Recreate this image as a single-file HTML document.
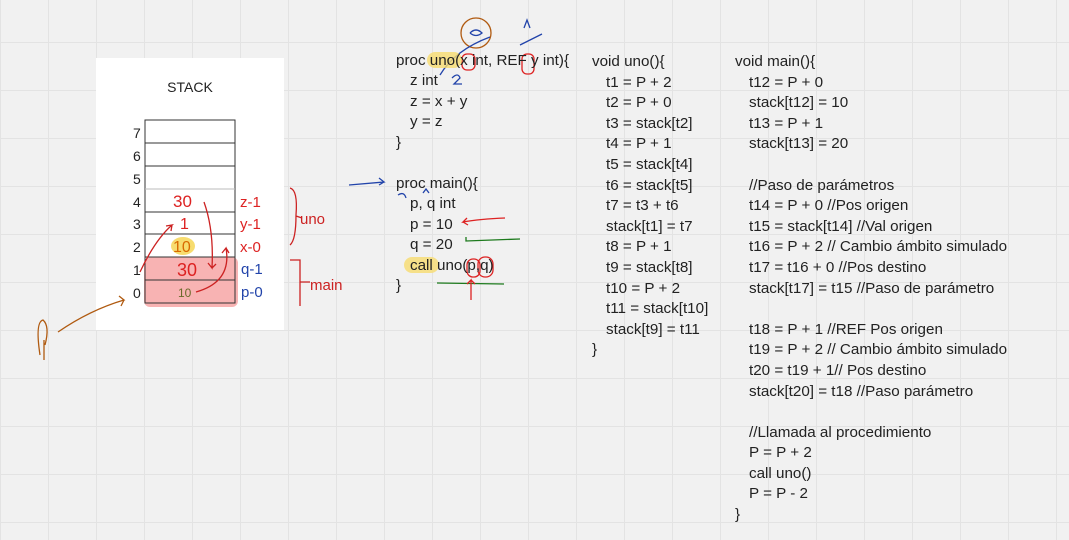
<!DOCTYPE html>
<html><head><meta charset="utf-8"><style>
html,body{margin:0;padding:0;}
body{width:1069px;height:540px;overflow:hidden;background-color:#f1f1f1;
background-image:linear-gradient(#e3e3e3 1px,transparent 1px),linear-gradient(90deg,#e3e3e3 1px,transparent 1px);
background-size:48px 48px;background-position:0 42px,0 0;font-family:"Liberation Sans",sans-serif;}
svg{position:absolute;left:0;top:0}
text{font-family:"Liberation Sans",sans-serif;font-size:15.2px;fill:#222}
</style></head><body>
<svg width="1069" height="540" viewBox="0 0 1069 540">
<rect x="96" y="58" width="188" height="272" fill="#fff"/>
<text x="190" y="92" text-anchor="middle" style="font-size:14px">STACK</text>
<rect x="144" y="257" width="94" height="50" rx="6" fill="#f7a6a6" opacity="0.85"/>
<g stroke="#333" stroke-width="1" fill="none">
<rect x="145" y="120" width="90" height="183"/>
<line x1="145" y1="143" x2="235" y2="143"/><line x1="145" y1="166" x2="235" y2="166"/>
<line x1="145" y1="189" x2="235" y2="189" stroke="#bbb"/><line x1="145" y1="212" x2="235" y2="212"/>
<line x1="145" y1="234" x2="235" y2="234"/><line x1="145" y1="257" x2="235" y2="257"/>
<line x1="145" y1="280" x2="235" y2="280"/>
</g>
<g>
<text x="133" y="138" style="font-size:14px">7</text><text x="133" y="161" style="font-size:14px">6</text><text x="133" y="184" style="font-size:14px">5</text><text x="133" y="207" style="font-size:14px">4</text>
<text x="133" y="229" style="font-size:14px">3</text><text x="133" y="252" style="font-size:14px">2</text><text x="133" y="275" style="font-size:14px">1</text><text x="133" y="298" style="font-size:14px">0</text>
</g>
<ellipse cx="183" cy="246" rx="12" ry="9" fill="#f7dc6f"/>
<g>
<text x="173" y="207" style="fill:#d22;font-size:17px">30</text>
<text x="180" y="229" style="fill:#d22;font-size:16px">1</text>
<text x="173" y="252" style="fill:#d86a00;font-size:16px">10</text>
<text x="177" y="276" style="fill:#d22;font-size:18px">30</text>
<text x="178" y="297" style="fill:#6a6a2a;font-size:12px">10</text>
<text x="240" y="207" style="fill:#d22;font-size:15px">z-1</text>
<text x="240" y="229" style="fill:#d22;font-size:15px">y-1</text>
<text x="240" y="252" style="fill:#d22;font-size:15px">x-0</text>
<text x="241" y="274" style="fill:#2244aa;font-size:15px">q-1</text>
<text x="241" y="297" style="fill:#2244aa;font-size:15px">p-0</text>
<text x="300" y="224" style="fill:#c22;font-size:15px">uno</text>
<text x="310" y="290" style="fill:#c22;font-size:15px">main</text>
</g>
<g fill="none" stroke-width="1.3">
<path d="M204,202 Q214,230 212,268 l-4,-5 m4,5 l4,-4" stroke="#c22"/>
<path d="M140,272 Q155,240 172,225 l-6,1 m6,-1 l-1,6" stroke="#c22"/>
<path d="M196,292 Q232,282 226,248 l-4,5 m4,-5 l3,5" stroke="#c22"/>
<path d="M290,188 Q298,190 296,215 Q296,240 290,245 M296,216 l6,2" stroke="#c22"/>
<path d="M290,260 L300,260 L300,306 M300,282 l10,0" stroke="#c22"/>
<path d="M58,332 Q90,310 124,300 l-5,-4 m5,4 l-3,6" stroke="#b05a10"/>
<path d="M40,355 Q35,322 43,320 Q50,326 45,345 M44,340 L44,360" stroke="#b05a10"/>
<path d="M349,185 L384,182 l-5,-4 m5,4 l-5,3" stroke="#2244aa"/>
<circle cx="476" cy="33" r="15" stroke="#b05a10"/>
<path d="M470,33 q6,-6 12,0 q-6,5 -12,0" stroke="#2244aa"/>
<path d="M490,37 Q455,50 440,75" stroke="#2244aa"/>
<path d="M520,45 L542,34 M524,28 L527,20 L530,28" stroke="#2244aa"/>
<path d="M452,78 q6,-6 8,0 l-6,6 l8,0" stroke="#2244aa"/>
<path d="M398,195 q6,-4 8,3 M423,193 l3,-4 l3,4" stroke="#2244aa"/>
<rect x="462" y="54" width="13" height="16" rx="5" stroke="#d22"/>
<rect x="522" y="54" width="12" height="20" rx="5" stroke="#d22"/>
<rect x="467" y="259" width="13" height="18" rx="6" stroke="#d22"/>
<rect x="478" y="257" width="15" height="20" rx="7" stroke="#d22"/>
<path d="M505,218 Q480,219 463,222 l4,-4 m-4,4 l5,3" stroke="#d22"/>
<path d="M520,239 L466,241 l0,-4" stroke="#1d7a1d"/>
<path d="M437,283 L504,284" stroke="#1d7a1d"/>
<path d="M471,300 L471,280 l-4,4 m4,-4 l4,4" stroke="#d22"/>
</g>
<rect x="427" y="52" width="35" height="16" rx="8" fill="#f7dc6f" opacity="0.8"/>
<rect x="404" y="257" width="35" height="16" rx="8" fill="#f7dc6f" opacity="0.8"/>
<g>
<text x="396" y="65">proc uno(x int, REF y int){</text>
<text x="410" y="85">z int</text>
<text x="410" y="106">z = x + y</text>
<text x="410" y="126">y = z</text>
<text x="396" y="147">}</text>
<text x="396" y="188">proc main(){</text>
<text x="410" y="208">p, q int</text>
<text x="410" y="229">p = 10</text>
<text x="410" y="249">q = 20</text>
<text x="410" y="270">call uno(p,q)</text>
<text x="396" y="290">}</text>
</g>
<g>
<text x="592" y="66">void uno(){</text>
<text x="606" y="87">t1 = P + 2</text>
<text x="606" y="107">t2 = P + 0</text>
<text x="606" y="128">t3 = stack[t2]</text>
<text x="606" y="148">t4 = P + 1</text>
<text x="606" y="169">t5 = stack[t4]</text>
<text x="606" y="190">t6 = stack[t5]</text>
<text x="606" y="210">t7 = t3 + t6</text>
<text x="606" y="231">stack[t1] = t7</text>
<text x="606" y="251">t8 = P + 1</text>
<text x="606" y="272">t9 = stack[t8]</text>
<text x="606" y="293">t10 = P + 2</text>
<text x="606" y="313">t11 = stack[t10]</text>
<text x="606" y="334">stack[t9] = t11</text>
<text x="592" y="354">}</text>
</g>
<g>
<text x="735" y="66">void main(){</text>
<text x="749" y="87">t12 = P + 0</text>
<text x="749" y="107">stack[t12] = 10</text>
<text x="749" y="128">t13 = P + 1</text>
<text x="749" y="148">stack[t13] = 20</text>
<text x="749" y="190">//Paso de parámetros</text>
<text x="749" y="210">t14 = P + 0 //Pos origen</text>
<text x="749" y="231">t15 = stack[t14] //Val origen</text>
<text x="749" y="251">t16 = P + 2 // Cambio ámbito simulado</text>
<text x="749" y="272">t17 = t16 + 0 //Pos destino</text>
<text x="749" y="293">stack[t17] = t15 //Paso de parámetro</text>
<text x="749" y="334">t18 = P + 1 //REF Pos origen</text>
<text x="749" y="354">t19 = P + 2 // Cambio ámbito simulado</text>
<text x="749" y="375">t20 = t19 + 1// Pos destino</text>
<text x="749" y="396">stack[t20] = t18 //Paso parámetro</text>
<text x="749" y="437">//Llamada al procedimiento</text>
<text x="749" y="457">P = P + 2</text>
<text x="749" y="478">call uno()</text>
<text x="749" y="498">P = P - 2</text>
<text x="735" y="519">}</text>
</g>
</svg>
</body></html>
